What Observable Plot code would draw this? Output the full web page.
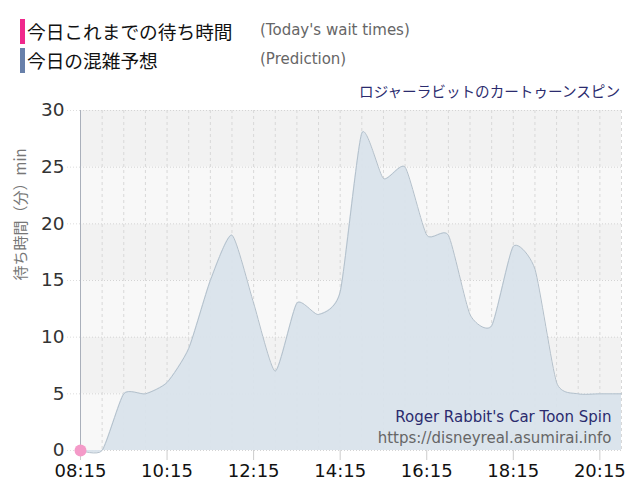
<!DOCTYPE html>
<html><head><meta charset="utf-8">
<script src="https://cdn.jsdelivr.net/npm/d3@7"></script>
<script src="https://cdn.jsdelivr.net/npm/@observablehq/plot@0.6"></script>
<style>
body{margin:0;background:#fff;font-family:"DejaVu Sans",sans-serif;}
#head{position:relative;width:640px;height:100px;}
.bar{position:absolute;left:20px;width:5px;height:25px;}
.jp{position:absolute;left:27px;font-family:"Noto Sans CJK JP",sans-serif;font-size:18.7px;color:#111;line-height:25px;}
.en{position:absolute;left:260px;font-family:"DejaVu Sans",sans-serif;font-size:15px;color:#666;line-height:25px;}
#sub{position:absolute;right:20px;top:80px;font-family:"Noto Sans CJK JP",sans-serif;font-size:14.6px;color:#2b2b6e;line-height:22px;}
</style></head>
<body>
<div id="head">
 <div class="bar" style="top:19px;background:#f0288c"></div>
 <div class="jp" style="top:18px" id="l1"></div>
 <div class="en" style="top:18px" id="e1"></div>
 <div class="bar" style="top:48px;background:#6880aa"></div>
 <div class="jp" style="top:47px" id="l2"></div>
 <div class="en" style="top:47px" id="e2"></div>
 <div id="sub"></div>
</div>
<div id="chart"></div>
<script>
const legendJP = ["今日これまでの待ち時間", "今日の混雑予想"];
const legendEN = ["(Today's wait times)", "(Prediction)"];
const subtitle = "ロジャーラビットのカートゥーンスピン";
const yLabel = "待ち時間（分）min";
const watermarkTitle = "Roger Rabbit's Car Toon Spin";
const watermarkUrl = "https://disneyreal.asumirai.info";

const times = ["08:15","08:45","09:15","09:45","10:15","10:45","11:15","11:45","12:15","12:45","13:15","13:45","14:15","14:45","15:15","15:45","16:15","16:45","17:15","17:45","18:15","18:45","19:15","19:45","20:15","20:45"];
const prediction = [0,0,5,5,6,9,15,19,13,7,13,12,14,28,24,25,19,19,12,11,18,16,6,5,5,5];
const todayTimes = ["08:15"];
const todayValues = [0];
const xTickLabels = ["08:15","10:15","12:15","14:15","16:15","18:15","20:15"];
const yTicks = [0,5,10,15,20,25,30];
const bandStarts = [0,5,10,15,20,25];
const bandFills = ["#f8f8f8","#f2f2f2","#f8f8f8","#f2f2f2","#f8f8f8","#f2f2f2"];

document.getElementById("l1").textContent = legendJP[0];
document.getElementById("l2").textContent = legendJP[1];
document.getElementById("e1").textContent = legendEN[0];
document.getElementById("e2").textContent = legendEN[1];
document.getElementById("sub").textContent = subtitle;

const parse = s => new Date(Date.UTC(2024,0,1,+s.slice(0,2),+s.slice(3)));
const pred = times.map((t,i)=>({time: parse(t), value: prediction[i]}));
const today = todayTimes.map((t,i)=>({time: parse(t), value: todayValues[i]}));
const bands = bandStarts.map((b,i)=>({lo:b, hi:b+5, fill:bandFills[i]}));
const grid = times.slice(1).map(parse);
const curve = d3.curveCardinal.tension(0.4);

const chart = Plot.plot({
  width: 640,
  height: 400,
  marginTop: 10,
  marginBottom: 50,
  marginLeft: 80,
  marginRight: 19,
  style: {fontFamily: "DejaVu Sans, sans-serif", background: "#fff", overflow: "visible"},
  x: {type: "utc", domain: [parse("08:15"), parse("20:45")]},
  y: {domain: [0, 30]},
  marks: [
    Plot.rect(bands, {y1: "lo", y2: "hi", fill: "fill"}),
    Plot.ruleY(yTicks, {stroke: "#d4d4d4", strokeDasharray: "1,2"}),
    Plot.ruleX(grid, {stroke: "#d8d8d8", strokeDasharray: "3,3"}),
    Plot.areaY(pred, {x: "time", y: "value", curve, fill: "#d9e3eb", fillOpacity: 0.95}),
    Plot.lineY(pred, {x: "time", y: "value", curve, stroke: "#b3c0cb", strokeWidth: 1}),
    Plot.ruleX([parse("08:15")], {stroke: "#aab0bb", strokeWidth: 1}),
    Plot.axisX(xTickLabels.map(parse), {tickFormat: d3.utcFormat("%H:%M"), fontSize: 18, tickSize: 10, tickPadding: 4, stroke: "#ccc", color: "#111", label: null}),
    Plot.axisY(yTicks, {fontSize: 18.5, tickSize: 14, tickPadding: 2, stroke: "#ddd", strokeDasharray: "1,2", color: "#333", label: null}),
    Plot.text([yLabel], {frameAnchor: "left", dx: -59, rotate: -90, fontSize: 15, fill: "#777", fontFamily: "Noto Sans CJK JP, sans-serif"}),
    Plot.text([watermarkTitle], {frameAnchor: "bottom-right", dx: -10, dy: -29, fontSize: 15, fill: "#2b2b6e", textAnchor: "end"}),
    Plot.text([watermarkUrl], {frameAnchor: "bottom-right", dx: -10, dy: -8, fontSize: 15, fill: "#666", textAnchor: "end"}),
    Plot.dot(today, {x: "time", y: "value", r: 6, fill: "#f49ac8", stroke: "none"})
  ]
});
document.getElementById("chart").appendChild(chart);
</script>
</body></html>
